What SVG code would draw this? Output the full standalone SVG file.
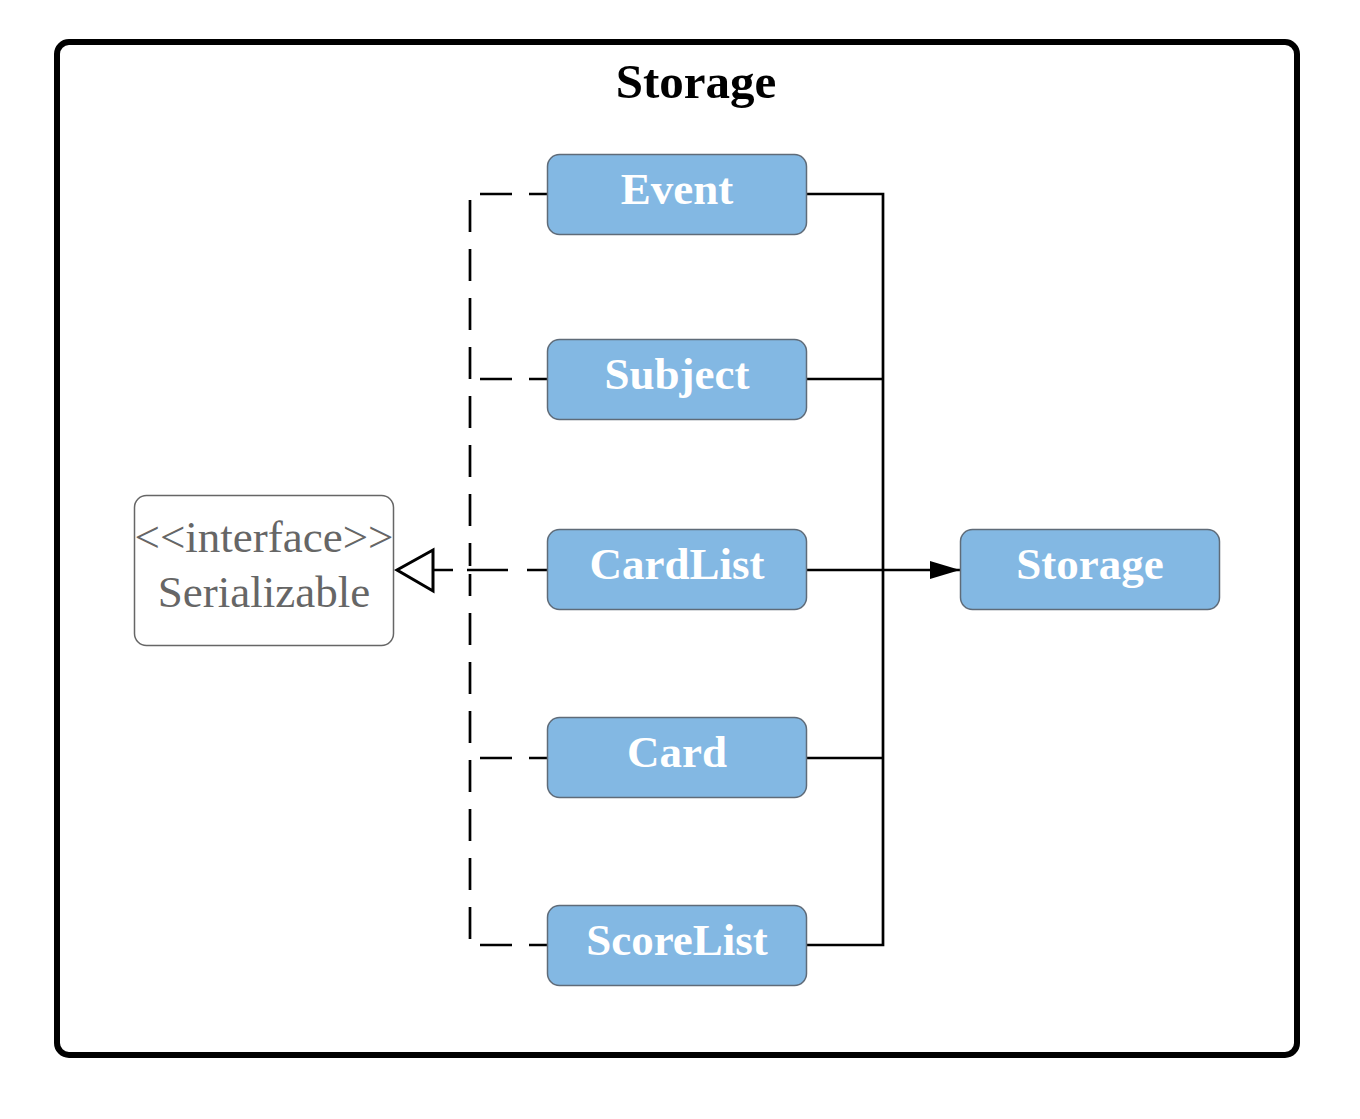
<svg xmlns="http://www.w3.org/2000/svg" width="1360" height="1119" viewBox="0 0 1360 1119">
<style>
.node rect{fill:#83B8E3;stroke:#5f6b78;stroke-width:1.5}
.node text{fill:#ffffff;font-family:"Liberation Serif",serif;font-weight:bold;font-size:45px;text-anchor:middle}
.iface rect{fill:#ffffff;stroke:#666666;stroke-width:1.5}
.iface text{fill:#666666;font-family:"Liberation Serif",serif;font-size:45px;text-anchor:middle}
.solid{fill:none;stroke:#000;stroke-width:2.7}
.stub{fill:none;stroke:#000;stroke-width:2.7;stroke-dasharray:18 17 32 100}
.vdash{fill:none;stroke:#000;stroke-width:2.7;stroke-dasharray:32 17}
</style>
<defs>
<marker id="arrow" viewBox="0 0 30 20" refX="30" refY="10" markerWidth="30" markerHeight="20" markerUnits="userSpaceOnUse" orient="auto">
<path d="M0,1 L30,10 L0,19 Z" fill="#000"/>
</marker>
</defs>
<g id="frame">
<rect x="57" y="42" width="1240" height="1013" rx="12" fill="#fff" stroke="#000" stroke-width="6"/>
<text x="696" y="98" font-family="Liberation Serif,serif" font-weight="bold" font-size="49" text-anchor="middle">Storage</text>
</g>
<g id="connectors">
<path class="vdash" d="M470,200 V566"/>
<path class="vdash" d="M470,939 V574"/>
<path class="stub" d="M547,194 H470"/>
<path class="stub" d="M547,379 H470"/>
<path class="stub" d="M547,758 H470"/>
<path class="stub" d="M547,945 H470"/>
<path d="M547,570 H433" fill="none" stroke="#000" stroke-width="2.7" stroke-dasharray="20 19 41 14 20 20"/>
<path d="M433,550 L397,570 L433,591 Z" fill="#fff" stroke="#000" stroke-width="3"/>
<path class="solid" d="M807,194 H883 V945 H807"/>
<path class="solid" d="M807,379 H883"/>
<path class="solid" d="M807,758 H883"/>
<path class="solid" d="M807,570 H960" marker-end="url(#arrow)"/>
</g>
<g id="serializable" class="iface">
<rect x="134.5" y="495.5" width="259" height="150" rx="12"/>
<text x="264" y="552">&lt;&lt;interface&gt;&gt;</text>
<text x="264" y="607">Serializable</text>
</g>
<g id="event" class="node">
<rect x="547.5" y="154.5" width="259" height="80" rx="12"/>
<text x="677" y="204">Event</text>
</g>
<g id="subject" class="node">
<rect x="547.5" y="339.5" width="259" height="80" rx="12"/>
<text x="677" y="389">Subject</text>
</g>
<g id="cardlist" class="node">
<rect x="547.5" y="529.5" width="259" height="80" rx="12"/>
<text x="677" y="579">CardList</text>
</g>
<g id="card" class="node">
<rect x="547.5" y="717.5" width="259" height="80" rx="12"/>
<text x="677" y="767">Card</text>
</g>
<g id="scorelist" class="node">
<rect x="547.5" y="905.5" width="259" height="80" rx="12"/>
<text x="677" y="955">ScoreList</text>
</g>
<g id="storage" class="node">
<rect x="960.5" y="529.5" width="259" height="80" rx="12"/>
<text x="1090" y="579">Storage</text>
</g>
</svg>
